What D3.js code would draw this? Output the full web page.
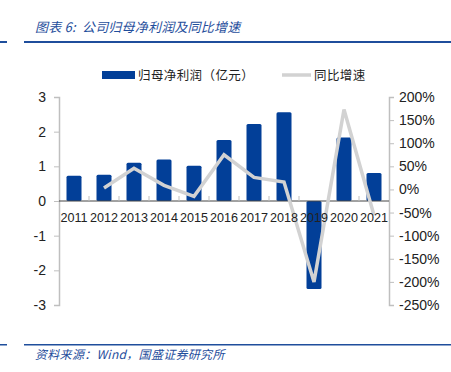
<!DOCTYPE html>
<html>
<head>
<meta charset="utf-8">
<script src="https://cdn.jsdelivr.net/npm/d3@7"></script>
<style>
  body { margin: 0; background: #fff; }
  svg { display: block; }
</style>
</head>
<body>
<div id="chart"></div>
<script>
// data
const years = ["2011", "2012", "2013", "2014", "2015", "2016", "2017", "2018", "2019", "2020", "2021"];
const profit = [0.73, 0.76, 1.10, 1.20, 1.02, 1.76, 2.22, 2.56, -2.54, 1.83, 0.81];   // 亿元
const growth = [null, 3, 46, 9, -15, 75, 26, 16, -200, 173, -56];                    // %
const leftTicks = [3, 2, 1, 0, -1, -2, -3];
const rightTicks = [200, 150, 100, 50, 0, -50, -100, -150, -200, -250];

const W = 451, H = 372;
const M = { left: 59, right: 62, top: 97, bottom: 67 };
const plotW = W - M.left - M.right;
const plotH = H - M.top - M.bottom;

const BLUE = "#023f98", GREY = "#d2d2d2", AXIS = "#bfbfbf", TITLE = "#1f4e9c";
const FONT = "'Liberation Sans', Arial, sans-serif";
const CJK = "'Noto Sans CJK SC', sans-serif";

const svg = d3.select("#chart").append("svg")
    .attr("width", W)
    .attr("height", H);

// header / footer rules
svg.append("rect").attr("x", 0).attr("y", 41).attr("width", 7).attr("height", 2).attr("fill", TITLE);
svg.append("rect").attr("x", 24).attr("y", 41).attr("width", W - 24).attr("height", 2).attr("fill", TITLE);
svg.append("rect").attr("x", 0).attr("y", 344).attr("width", 7).attr("height", 1.5).attr("fill", TITLE);
svg.append("rect").attr("x", 24).attr("y", 344).attr("width", W - 24).attr("height", 1.5).attr("fill", TITLE);

svg.append("text")
    .attr("x", 35).attr("y", 32)
    .attr("fill", TITLE)
    .style("font-family", CJK)
    .style("font-size", "13px")
    .style("font-style", "italic")
    .style("letter-spacing", "0.2px")
    .style("white-space", "pre")
    .text("图表 6:  公司归母净利润及同比增速");

svg.append("text")
    .attr("x", 35).attr("y", 359)
    .attr("fill", TITLE)
    .style("font-family", CJK)
    .style("font-size", "12px")
    .style("font-style", "italic")
    .style("letter-spacing", "0.3px")
    .text("资料来源：Wind，国盛证券研究所");

const g = svg.append("g")
    .attr("transform", `translate(${M.left},${M.top})`);

const x = d3.scaleBand()
    .domain(years)
    .range([0, plotW])
    .paddingInner(0.5)
    .paddingOuter(0.25);

const yL = d3.scaleLinear().domain([-3, 3]).range([plotH, 0]);
const yR = d3.scaleLinear().domain([-250, 200]).range([plotH, 0]);

// left axis
const axL = g.append("g")
    .call(d3.axisLeft(yL).tickValues(leftTicks).tickSize(5).tickPadding(8).tickFormat(d => String(d)));
axL.select(".domain").attr("stroke", AXIS).attr("stroke-width", 1.5);
axL.selectAll(".tick line").attr("stroke", AXIS);
axL.selectAll(".tick text")
    .style("font-family", FONT).style("font-size", "14px").attr("fill", "#222");

// right axis
const axR = g.append("g")
    .attr("transform", `translate(${plotW},0)`)
    .call(d3.axisRight(yR).tickValues(rightTicks).tickSize(5).tickPadding(5).tickFormat(d => d + "%"));
axR.select(".domain").attr("stroke", AXIS).attr("stroke-width", 1.5);
axR.selectAll(".tick line").attr("stroke", AXIS);
axR.selectAll(".tick text")
    .style("font-family", FONT).style("font-size", "14px").attr("fill", "#222");

// bars
g.selectAll("rect.bar")
    .data(years.map((y, i) => ({ year: y, v: profit[i] })))
    .join("rect")
    .attr("class", "bar")
    .attr("x", d => x(d.year))
    .attr("y", d => yL(Math.max(0, d.v)))
    .attr("width", x.bandwidth())
    .attr("height", d => Math.abs(yL(d.v) - yL(0)))
    .attr("rx", 1.5)
    .attr("fill", BLUE);

// zero line with small category ticks
g.append("line")
    .attr("x1", 0).attr("x2", plotW)
    .attr("y1", yL(0)).attr("y2", yL(0))
    .attr("stroke", "#444").attr("stroke-width", 1);
const step = x.step();
g.selectAll("line.cat")
    .data(d3.range(1, years.length))
    .join("line")
    .attr("class", "cat")
    .attr("x1", i => i * step).attr("x2", i => i * step)
    .attr("y1", yL(0) - 5).attr("y2", yL(0))
    .attr("stroke", AXIS);

// growth line
const line = d3.line()
    .defined(d => d.v !== null)
    .x(d => x(d.year) + x.bandwidth() / 2)
    .y(d => yR(d.v));
g.append("path")
    .datum(years.map((y, i) => ({ year: y, v: growth[i] })))
    .attr("d", line)
    .attr("fill", "none")
    .attr("stroke", GREY)
    .attr("stroke-width", 3.5)
    .attr("stroke-linejoin", "miter");

// year labels sit on the zero line
g.selectAll("text.year")
    .data(years)
    .join("text")
    .attr("class", "year")
    .attr("x", d => x(d) + x.bandwidth() / 2)
    .attr("y", yL(0) + 21)
    .attr("text-anchor", "middle")
    .attr("fill", "#222")
    .style("font-family", FONT)
    .style("font-size", "12.6px")
    .text(d => d);

// legend
const lg = svg.append("g");
lg.append("rect").attr("x", 102).attr("y", 71).attr("width", 33).attr("height", 8).attr("fill", BLUE);
lg.append("text").attr("x", 138).attr("y", 80)
    .style("font-family", CJK).style("font-size", "12.5px").style("letter-spacing", "0.4px").attr("fill", "#222")
    .text("归母净利润（亿元）");
lg.append("line").attr("x1", 282).attr("x2", 311).attr("y1", 75).attr("y2", 75)
    .attr("stroke", GREY).attr("stroke-width", 3.5);
lg.append("text").attr("x", 314).attr("y", 80)
    .style("font-family", CJK).style("font-size", "12.5px").style("letter-spacing", "0.4px").attr("fill", "#222")
    .text("同比增速");
</script>
</body>
</html>
